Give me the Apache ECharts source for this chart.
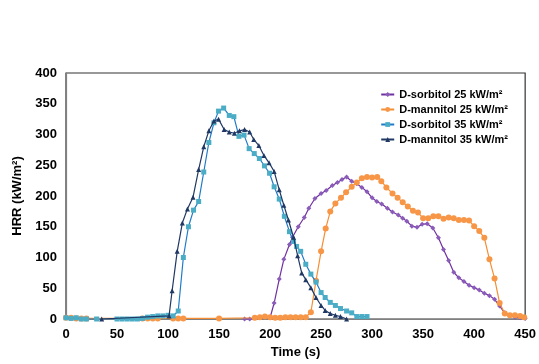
<!DOCTYPE html>
<html><head><meta charset="utf-8">
<script src="https://cdn.jsdelivr.net/npm/echarts@6/dist/echarts.min.js"></script>
<style>html,body{margin:0;padding:0;background:#fff}#c{width:539px;height:364px}</style>
</head><body><div id="c"></div>
<script>
const seriesNames = ['D-sorbitol 25 kW/m²','D-mannitol 25 kW/m²','D-sorbitol 35 kW/m²','D-mannitol 35 kW/m²'];
const xTicks = [0,50,100,150,200,250,300,350,400,450];
const yTicks = [0,50,100,150,200,250,300,350,400];
const sorbitol25 = [[175,0],[180,0],[200,2],[204,26],[209,65],[213.5,97],[219,121],[222,133],[227.6,150],[233.5,165],[238,180],[244,196],[250,204],[255,209],[261,217],[266,222],[270.5,227],[275,231],[280,224],[285,220],[290,214],[295,207],[300,197],[304.6,191],[309.4,187],[315,180],[320,174],[325.6,169],[330,164],[334,159],[339,151],[344,149],[349,154],[354,155],[359.5,148],[365,132],[370,113],[375,95],[380,76],[385,67],[390,61],[395,55],[400,51],[405,47],[410,42],[415,38],[420,32],[425,21],[430,10],[435,6],[440,3],[445,2],[450,1]];
const mannitol25 = [[0,2],[5,2],[10,1],[15,1],[20,1],[75,1],[80,1],[85,1],[90,1],[105,1],[110,1],[115,1],[150,1],[185,2],[190,3],[195,4],[200,3],[205,2],[210,2],[215,3],[220,3],[225,3],[230,3],[235,3],[240,11],[245,62],[250,110],[254.5,147],[259,175],[264,188],[269.5,197],[274.5,206],[280,215],[285,222],[290,229],[295,231],[300,230],[305,231],[309,224],[314,214],[320,204],[325,197],[330,190],[335,183],[340,176],[345,173],[350,164],[355,164],[360,167],[365,167],[370,163],[375,165],[380,164],[385,161],[390,161],[395,160],[400,151],[405,143],[410,132],[415,97],[420,66],[425,26],[430,9],[435,6],[440,6],[445,5],[449,3]];
const sorbitol35 = [[0,2],[5,1],[10,2],[15,0],[20,0],[30,0],[50,0],[55,0],[60,0],[65,0],[70,0],[75,1],[80,3],[85,4],[90,5],[95,5],[100,6],[105,5],[110,13],[115,100],[120,150],[125,177],[130,191],[135,239],[140,287],[145,319],[149.5,338],[154.5,343],[160,331],[164.5,329],[169.5,297],[174.5,299],[179.5,277],[184.5,269],[189.5,261],[194.5,249],[199.5,237],[204,215],[209,195],[214,167],[219,142],[223,126],[226,118],[230,110],[235,89],[240,73],[245,60],[250,43],[254,35],[259,27],[264,22],[269,17],[275,13],[280,10],[285,4],[290,4],[295,4]];
const mannitol35 = [[35,0],[101,5],[104,46],[109,110],[114,156],[119,179],[124.5,198],[130,243],[135,280],[140,306],[145,322],[149.5,325],[155,308],[160,304],[165,302],[170,306],[175,308],[180,304],[184,292],[189,282],[194,266],[199,254],[204,240],[209,210],[213.5,185],[218,161],[223,133],[227,103],[231,75],[235,64],[240,51],[245,35],[250,22],[254,14],[259,9],[264,6],[269,4],[275,0]];

const styles = [
  {line:'#7030a0', mark:'#8a5bb8', symbol:'diamond', size:5},
  {line:'#f58e33', mark:'#f79646', symbol:'circle', size:6},
  {line:'#1f7bc8', mark:'#4bacc6', symbol:'rect', size:5},
  {line:'#1f3864', mark:'#1f3864', symbol:'triangle', size:5}
];
const datas = [sorbitol25, mannitol25, sorbitol35, mannitol35];
const font = 'Liberation Sans, Arial, sans-serif';
const chart = echarts.init(document.getElementById('c'));
chart.setOption({
  animation:false,
  backgroundColor:'#fff',
  grid:{left:66, right:9, top:73, bottom:42, show:true, borderColor:'#333', borderWidth:1.2},
  legend:{
    data:seriesNames, orient:'vertical', right:26, top:84, itemGap:4,
    itemWidth:13, itemHeight:6,
    textStyle:{fontFamily:font, fontWeight:'bold', fontSize:11, color:'#000'}
  },
  xAxis:{type:'value', min:0, max:450, interval:50, name:'Time (s)', nameLocation:'middle', nameGap:27,
    nameTextStyle:{fontFamily:font, fontWeight:'bold', fontSize:13, color:'#000'},
    axisLine:{lineStyle:{color:'#808080', width:1.2}}, axisTick:{show:false}, splitLine:{show:false},
    axisLabel:{fontFamily:font, fontWeight:'bold', fontSize:13, color:'#000', margin:9,
      formatter:v=>xTicks.includes(v)?String(v):''}},
  yAxis:{type:'value', min:0, max:400, interval:50, name:'HRR (kW/m²)', nameLocation:'middle', nameGap:41,
    nameTextStyle:{fontFamily:font, fontWeight:'bold', fontSize:13, color:'#000'},
    axisLine:{show:true, lineStyle:{color:'#808080', width:1.2}}, axisTick:{show:false}, splitLine:{show:false},
    axisLabel:{fontFamily:font, fontWeight:'bold', fontSize:13, color:'#000', margin:9,
      formatter:v=>yTicks.includes(v)?String(v):''}},
  series: datas.map((d,i)=>({
    name:seriesNames[i], type:'line', data:d, symbol:styles[i].symbol, symbolSize:styles[i].size,
    showAllSymbol:true,
    lineStyle:{color:styles[i].line, width:1.2},
    itemStyle:{color:styles[i].mark, borderWidth:0},
    z:2+i
  }))
});
</script></body></html>
